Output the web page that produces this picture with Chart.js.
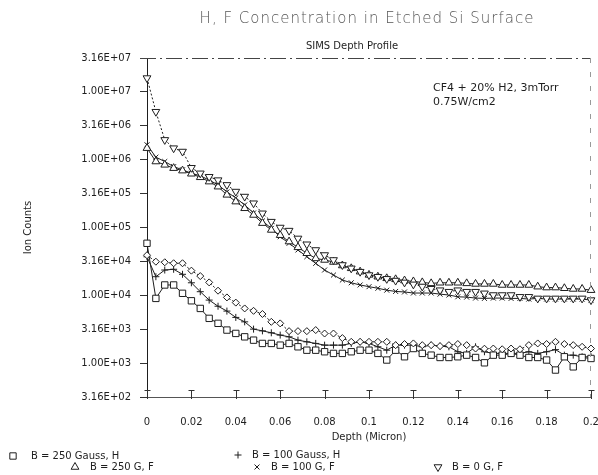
<!DOCTYPE html>
<html>
<head>
<meta charset="utf-8">
<script src="https://cdn.jsdelivr.net/npm/chart.js@4.4.1/dist/chart.umd.min.js"></script>
<style>
html,body{margin:0;padding:0;background:#fff;overflow:hidden;}
canvas{display:block;}
</style>
</head>
<body>
<canvas id="chart" width="598" height="475"></canvas>
<script>
// ---------- data ----------
const depth = [0, 0.004, 0.008, 0.012, 0.016, 0.02, 0.024, 0.028, 0.032, 0.036,
  0.04, 0.044, 0.048, 0.052, 0.056, 0.06, 0.064, 0.068, 0.072, 0.076,
  0.08, 0.084, 0.088, 0.092, 0.096, 0.1, 0.104, 0.108, 0.112, 0.116,
  0.12, 0.124, 0.128, 0.132, 0.136, 0.14, 0.144, 0.148, 0.152, 0.156,
  0.16, 0.164, 0.168, 0.172, 0.176, 0.18, 0.184, 0.188, 0.192, 0.196, 0.2];

// B = 250 Gauss, H  (squares)
const h250 = [58500, 9000, 14200, 14200, 10700, 8300, 6400, 4570, 3860, 3070,
  2740, 2440, 2180, 1950, 1950, 1840, 1950, 1740, 1550, 1550,
  1470, 1390, 1390, 1470, 1550, 1550, 1390, 1110, 1550, 1240,
  1640, 1390, 1310, 1210, 1210, 1240, 1310, 1210, 1010, 1310,
  1310, 1390, 1310, 1210, 1210, 1110, 790, 1240, 880, 1210, 1170];
// B = 100 Gauss, H  (plus)
const h100 = [37000, 18800, 23600, 24200, 20400, 15300, 11300, 8500, 6900, 5850,
  4720, 4060, 3170, 2990, 2800, 2590, 2440, 2180, 2060, 1950,
  1840, 1840, 1840, 1950, 2060, 1950, 1740, 1550, 1840, 1840,
  1840, 1740, 1840, 1780, 1740, 1470, 1390, 1740, 1470, 1390,
  1390, 1390, 1390, 1470, 1390, 1470, 1580, 1310, 1310, 1240, 1240];
// B = 0 Gauss, H  (diamonds, not listed in the legend)
const h0 = [39000, 31300, 30700, 29700, 29700, 23100, 19200, 15500, 11700, 9300,
  7800, 6400, 5900, 5300, 4060, 3850, 2960, 2960, 2960, 3070,
  2730, 2730, 2340, 2060, 2060, 2060, 2060, 2060, 1840, 1910,
  1950, 1840, 1840, 1780, 1840, 1910, 1840, 1640, 1630, 1640,
  1600, 1640, 1600, 1840, 1950, 1910, 2060, 1910, 1840, 1740, 1640];
// B = 250 G, F  (triangles)
const f250 = [1480000, 940000, 840000, 750000, 690000, 620000, 550000, 475000, 400000, 303000,
  241000, 192000, 153000, 116000, 92000, 77000, 62000, 51000, 41700, 35000,
  33200, 31000, 27500, 25000, 22300, 20000, 18800, 17800, 17200, 16500,
  16000, 15500, 15000, 15300, 15300, 15300, 15000, 14700, 14700, 14700,
  14200, 14200, 14200, 14200, 13400, 13000, 13000, 12700, 12400, 12400, 11900];
// B = 100 G, F  (x)
const f100 = [1660000, 1090000, 940000, 790000, 710000, 630000, 580000, 500000, 425000, 335000,
  273000, 215000, 164000, 125000, 97000, 73000, 58500, 46600, 37100, 29600,
  23600, 19900, 16800, 15300, 14200, 13400, 12700, 11900, 11400, 11200,
  10800, 10800, 10800, 10400, 10100, 9500, 9400, 9100, 9000, 9100,
  9100, 9000, 9000, 8800, 9000, 8800, 8800, 8800, 8800, 8800, 8500];
// B = 0 G, F  (inverted triangles)
const f0 = [16000000, 5100000, 1960000, 1480000, 1320000, 760000, 630000, 560000, 500000, 425000,
  339000, 286000, 228000, 162000, 122000, 100000, 90000, 69000, 56600, 46600,
  39300, 33200, 28000, 25000, 22300, 19900, 18800, 17500, 16500, 15500,
  14500, 13500, 12500, 11900, 11300, 11900, 11300, 11300, 10700, 10100,
  10100, 10100, 9500, 9500, 9000, 9000, 9000, 9000, 9000, 9000, 8500];

const yTickValues = [316.2278, 1000, 3162.278, 10000, 31622.78, 100000, 316227.8, 1000000, 3162278, 10000000, 31622777];
const yTickLabels = ['3.16E+02', '1.00E+03', '3.16E+03', '1.00E+04', '3.16E+04', '1.00E+05', '3.16E+05', '1.00E+06', '3.16E+06', '1.00E+07', '3.16E+07'];
const xTickValues = [0, 0.02, 0.04, 0.06, 0.08, 0.1, 0.12, 0.14, 0.16, 0.18, 0.2];
const xTickLabels = ['0', '0.02', '0.04', '0.06', '0.08', '0.1', '0.12', '0.14', '0.16', '0.18', '0.2'];

const seriesLabels = ['B = 250 Gauss, H', 'B = 100 Gauss, H', 'B = 250 G, F', 'B = 100 G, F', 'B = 0 G, F', 'B = 0 Gauss, H'];
const titleText = 'H, F Concentration in Etched Si Surface';
const subtitleText = 'SIMS Depth Profile';
const noteLines = ['CF4 + 20% H2, 3mTorr', '0.75W/cm2'];
const xAxisTitle = 'Depth (Micron)';
const yAxisTitle = 'Ion Counts';

// ---------- build ----------
const INK = '#1e1e1e';
const FONT = '"DejaVu Sans", "Liberation Sans", sans-serif';
Chart.defaults.font.family = FONT;
Chart.defaults.font.size = 10;
Chart.defaults.color = INK;

function pts(arr) { return depth.map((x, i) => ({ x: x, y: arr[i] })); }

function ds(label, arr, style, rot, radius, dash, inLegend) {
  return {
    label: label,
    data: pts(arr),
    borderColor: INK,
    borderWidth: 1,
    borderDash: dash,
    pointStyle: style,
    rotation: rot,
    pointRadius: radius,
    pointBorderColor: INK,
    pointBackgroundColor: '#fff',
    pointBorderWidth: 1,
    tension: 0,
    clip: false,
    inLegend: inLegend
  };
}

const datasets = [
  ds(seriesLabels[5], h0, 'rectRot', 0, 3.5, [2, 2], false),
  ds(seriesLabels[0], h250, 'rect', 0, 4.5, [], true),
  ds(seriesLabels[1], h100, 'cross', 0, 3.5, [], true),
  ds(seriesLabels[4], f0, 'triangle', 180, 4.5, [2, 2], true),
  ds(seriesLabels[2], f250, 'triangle', 0, 4.5, [], true),
  ds(seriesLabels[3], f100, 'crossRot', 0, 3.5, [], true)
];

// legend layout: label -> [symbol x, symbol y, text x]
const legendSpots = {
  'B = 250 Gauss, H': [13, 456, 31],
  'B = 100 Gauss, H': [238, 455, 252],
  'B = 250 G, F': [75, 467, 90],
  'B = 100 G, F': [257, 467, 271],
  'B = 0 G, F': [438, 467, 452]
};

const decor = {
  id: 'decor',
  beforeDraw(chart) {
    const ctx = chart.ctx;
    ctx.save();
    ctx.fillStyle = '#fff';
    ctx.fillRect(0, 0, chart.width, chart.height);
    ctx.restore();
  },
  afterDraw(chart) {
    const ctx = chart.ctx;
    const a = chart.chartArea;
    const xs = chart.scales.x;
    ctx.save();
    // top frame (dash-dot)
    ctx.strokeStyle = '#444';
    ctx.lineWidth = 1;
    ctx.setLineDash([16, 4, 2, 4]);
    ctx.beginPath();
    ctx.moveTo(a.left - 7, Math.round(a.top) + 0.5);
    ctx.lineTo(a.right, Math.round(a.top) + 0.5);
    ctx.stroke();
    // right frame (dashed, faint)
    ctx.strokeStyle = '#999';
    ctx.setLineDash([5, 9]);
    ctx.beginPath();
    ctx.moveTo(Math.round(a.right) - 0.5, a.top);
    ctx.lineTo(Math.round(a.right) - 0.5, a.bottom);
    ctx.stroke();
    ctx.setLineDash([]);

    // inward "T" ticks on the depth axis
    ctx.strokeStyle = '#333';
    xTickValues.forEach(v => {
      const px = Math.round(xs.getPixelForValue(v)) + 0.5;
      const yb = Math.round(a.bottom);
      ctx.beginPath();
      ctx.moveTo(px, yb + 2);
      ctx.lineTo(px, yb - 7);
      ctx.moveTo(px - 3, yb - 7 + 0.5);
      ctx.lineTo(px + 3, yb - 7 + 0.5);
      ctx.stroke();
    });

    // title + subtitle
    ctx.textAlign = 'center';
    ctx.textBaseline = 'middle';
    ctx.fillStyle = '#555';
    ctx.font = '300 15px ' + FONT;
    ctx.letterSpacing = '1px';
    ctx.fillText(titleText, 367, 19);
    ctx.letterSpacing = '0px';
    ctx.fillStyle = INK;
    ctx.font = '10px ' + FONT;
    ctx.fillText(subtitleText, 352, 46);

    // annotation
    ctx.textAlign = 'left';
    ctx.font = '11px ' + FONT;
    ctx.fillText(noteLines[0], 433, 88);
    ctx.fillText(noteLines[1], 433, 102);

    // legend
    ctx.font = '10px ' + FONT;
    chart.data.datasets.forEach(d => {
      if (!d.inLegend) return;
      const s = legendSpots[d.label];
      if (!s) return;
      ctx.strokeStyle = INK;
      ctx.fillStyle = '#fff';
      ctx.lineWidth = 1;
      Chart.helpers.drawPoint(ctx, { pointStyle: d.pointStyle, rotation: d.rotation, radius: d.pointRadius, borderWidth: 1 }, s[0], s[1]);
      ctx.fillStyle = INK;
      ctx.fillText(d.label, s[2], s[1]);
    });
    ctx.restore();
  }
};

new Chart(document.getElementById('chart'), {
  type: 'line',
  data: { datasets: datasets },
  plugins: [decor],
  options: {
    responsive: false,
    animation: false,
    devicePixelRatio: 1,
    layout: { padding: { top: 58, right: 7, bottom: 28, left: 0 } },
    plugins: { legend: { display: false }, tooltip: { enabled: false }, title: { display: false } },
    scales: {
      x: {
        type: 'linear',
        min: xTickValues[0],
        max: xTickValues[xTickValues.length - 1],
        afterBuildTicks: s => { s.ticks = xTickValues.map(v => ({ value: v })); },
        afterFit: s => { s.height = 50; s.paddingLeft = 0; s.paddingRight = 0; },
        ticks: { autoSkip: false, maxRotation: 0, padding: 11, callback: (v, i) => xTickLabels[i] },
        grid: { display: false },
        border: { display: true, color: '#555', dash: [10, 4] },
        title: { display: true, text: xAxisTitle, padding: { top: 0, bottom: 4 }, font: { size: 10 } }
      },
      y: {
        type: 'logarithmic',
        min: yTickValues[0],
        max: yTickValues[yTickValues.length - 1],
        afterBuildTicks: s => { s.ticks = yTickValues.map(v => ({ value: v })); },
        afterFit: s => { s.width = 147; s.paddingTop = 0; s.paddingBottom = 0; },
        ticks: { autoSkip: false, padding: 9, callback: (v, i) => yTickLabels[i] },
        grid: { display: true, drawOnChartArea: false, drawTicks: true, tickLength: 7, color: '#333' },
        border: { display: true, color: INK },
        title: { display: true, text: yAxisTitle, padding: { top: 22, bottom: 0 }, font: { size: 10 } }
      }
    }
  }
});
</script>
</body>
</html>
